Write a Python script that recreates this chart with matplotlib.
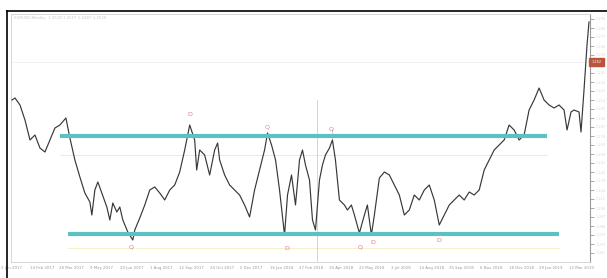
import matplotlib
matplotlib.use("Agg")
import matplotlib.pyplot as plt
from matplotlib.lines import Line2D

# ---- data ----
bars = [0, 3, 8, 13, 18, 23, 28, 33, 38, 43, 48, 54, 58, 63, 68, 73, 78, 80, 83, 86,
        90, 95, 98, 101, 105, 108, 111, 116, 121, 123, 128, 133, 138, 143, 148, 153, 158, 163, 168,
        173, 178, 183, 185, 188, 193, 198, 203, 206, 208, 213, 218, 223, 228, 233, 238,
        243, 248, 253, 256, 260, 264, 268, 273, 276, 280, 284, 288, 291, 294, 298, 301,
        304, 308, 311, 314, 318, 321, 324, 328, 333, 336, 340, 343, 348, 353, 356, 360,
        363, 368, 373, 378, 383, 388, 393, 398, 403, 408, 413, 418, 423, 428, 433, 438,
        443, 448, 453, 458, 463, 468, 473, 478, 483, 488, 493, 498, 503, 508, 513, 518,
        523, 528, 533, 538, 543, 548, 553, 556, 560, 563, 568, 570, 573, 576, 578]
close = [1.214, 1.216, 1.209, 1.194, 1.174, 1.179, 1.166, 1.162, 1.174, 1.186, 1.189,
         1.196, 1.176, 1.154, 1.137, 1.121, 1.112, 1.099, 1.124, 1.132, 1.121, 1.107,
         1.094, 1.111, 1.102, 1.107, 1.094, 1.082, 1.074, 1.084, 1.096, 1.109, 1.124, 1.127, 1.121, 1.114,
         1.124, 1.129, 1.142, 1.164, 1.189, 1.174, 1.144, 1.164, 1.159, 1.139, 1.164,
         1.171, 1.154, 1.139, 1.129, 1.124, 1.119, 1.109, 1.097, 1.124, 1.144, 1.164,
         1.181, 1.169, 1.154, 1.124, 1.079, 1.119, 1.139, 1.109, 1.154, 1.164, 1.149,
         1.134, 1.094, 1.084, 1.134, 1.149, 1.159, 1.166, 1.174, 1.154, 1.114, 1.109,
         1.104, 1.109, 1.099, 1.081, 1.099, 1.109, 1.079, 1.099, 1.136, 1.142, 1.139,
         1.129, 1.119, 1.099, 1.104, 1.119, 1.114, 1.124, 1.129, 1.114, 1.089, 1.099,
         1.109, 1.114, 1.119, 1.114, 1.122, 1.119, 1.124, 1.144, 1.154, 1.164, 1.169,
         1.174, 1.189, 1.184, 1.174, 1.179, 1.204, 1.214, 1.226, 1.214, 1.209, 1.206,
         1.209, 1.204, 1.184, 1.202, 1.204, 1.202, 1.182, 1.224, 1.269, 1.292]

upper_level = 1.178
upper_span = [48, 536]
lower_level = 1.080
lower_span = [56, 548]

label_bars = [119, 178, 256, 275, 320, 349, 361, 428]
label_prices = [1.067, 1.199, 1.187, 1.066, 1.185, 1.067, 1.072, 1.074]
label_texts = ["Q", "D", "Q", "D", "Q", "Q", "D", "D"]

current_price = 1.252
price_ticks = [1.061, 1.070, 1.079, 1.088, 1.097, 1.106, 1.115, 1.124, 1.133, 1.142,
               1.151, 1.160, 1.169, 1.178, 1.187, 1.196, 1.205, 1.214, 1.223, 1.232,
               1.241, 1.250, 1.259, 1.268, 1.277, 1.286, 1.295]
date_bars = [0, 30, 60, 90, 120, 150, 180, 210, 240, 270, 300, 330, 360, 390, 420,
             450, 480, 510, 540, 570]
date_labels = ["2 Jan 2017", "14 Feb 2017", "28 Mar 2017", "9 May 2017", "20 Jun 2017",
               "1 Aug 2017", "12 Sep 2017", "24 Oct 2017", "5 Dec 2017", "16 Jan 2018",
               "27 Feb 2018", "10 Apr 2018", "22 May 2018", "3 Jul 2018", "14 Aug 2018",
               "25 Sep 2018", "6 Nov 2018", "18 Dec 2018", "29 Jan 2019", "12 Mar 2019"]

# ---- figure ----
W, H = 607, 278
fig = plt.figure(figsize=(W / 100, H / 100), dpi=100)
fig.patch.set_facecolor("white")

ax = fig.add_axes([11 / W, (H - 262) / H, (590 - 11) / W, (262 - 14) / H])
ax.set_xlim(-1, 579)
ax.set_ylim(1.052, 1.300)
ax.set_facecolor("white")

# faint auxiliary lines
ax.axhline(current_price, color="#ededed", lw=0.5, zorder=1)
ax.plot(upper_span, [1.159, 1.159], color="#f6e2cc", lw=0.6, zorder=1)
ax.plot(lower_span, [1.066, 1.066], color="#f4efc4", lw=0.6, zorder=1)
ax.plot([306, 306], [1.040, 1.214], color="#c4c4c4", lw=0.5, zorder=1)
ax.plot([321, 321], [1.174, 1.185], color="#c4c4c4", lw=0.5, zorder=1)

# price series
ax.plot(bars, close, color="#383838", lw=0.85, zorder=3)

# support / resistance
ax.plot(upper_span, [upper_level, upper_level], color="#5cc0c4", lw=3.0,
        solid_capstyle="butt", zorder=4)
ax.plot(lower_span, [lower_level, lower_level], color="#5cc0c4", lw=3.0,
        solid_capstyle="butt", zorder=4)

for b, p, s in zip(label_bars, label_prices, label_texts):
    ax.text(b, p, s, color="#e07a8a", fontsize=4.5, ha="center", va="center", zorder=5)

# axes styling
for side in ["left", "top", "bottom"]:
    ax.spines[side].set_color("#d0d0d0")
    ax.spines[side].set_linewidth(0.6)
ax.spines["right"].set_color("#9a9a9a")
ax.spines["right"].set_linewidth(0.8)

ax.yaxis.tick_right()
ax.set_yticks(price_ticks)
ax.set_yticklabels(["%.3f" % v for v in price_ticks])
ax.tick_params(axis="y", length=3, width=0.5, color="#888888", labelsize=2.5,
               labelcolor="#d8d8d8", pad=1)
ax.set_xticks(date_bars)
ax.set_xticklabels(date_labels)
ax.tick_params(axis="x", length=0, labelsize=2.8, labelcolor="#9a9a9a", pad=3)

# current price tag
ax.annotate("%.3f" % current_price, xy=(1.0, current_price),
            xycoords=("axes fraction", "data"), xytext=(1, 0),
            textcoords="offset points", fontsize=2.5, color="white",
            va="center", ha="left",
            bbox=dict(boxstyle="square,pad=0.6", fc="#b9553c", ec="#b9553c"))

# chart title (faint)
fig.text(14 / W, 1 - 18 / H, "EURUSD,Weekly  1.2518 1.2557 1.2487 1.2520",
         fontsize=2.8, color="#c8c8c8", ha="left", va="center")

# outer frame
fig.add_artist(Line2D([7 / W, 7 / W], [0, 1 - 11 / H], color="black", lw=1.2,
                      transform=fig.transFigure))
fig.add_artist(Line2D([7 / W, 1], [1 - 11 / H, 1 - 11 / H], color="black", lw=1.2,
                      transform=fig.transFigure))

fig.savefig("out.png", dpi=100)
